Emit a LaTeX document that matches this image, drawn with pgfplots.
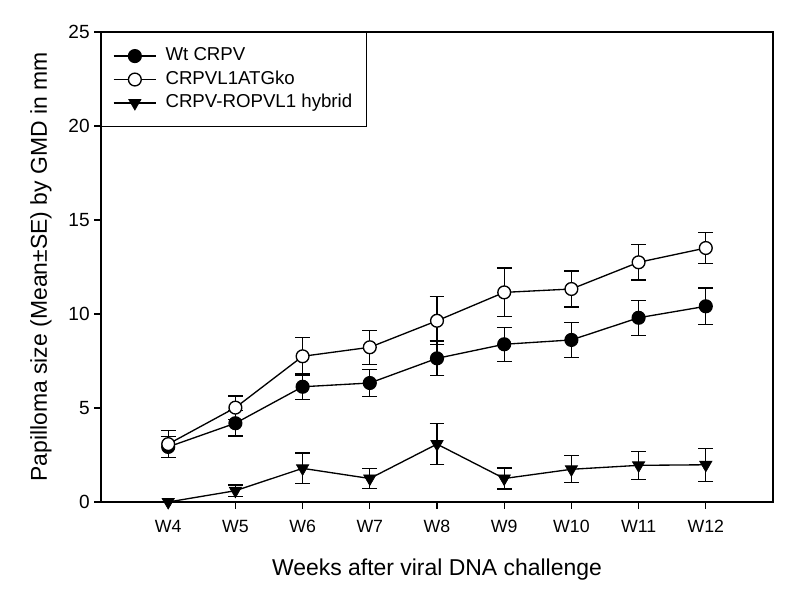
\documentclass[border=0pt]{standalone}
\usepackage{fontspec}
\setmainfont{Liberation Sans}
\usepackage{pgfplots}
\usepackage{pgfplotstable}
\pgfplotsset{compat=1.18}

\pgfplotstableread{
x ywt ewt yko eko yhy ehy
4 2.93 0.55 3.08 0.72 0.00 0.00
5 4.19 0.68 5.02 0.62 0.60 0.30
6 6.13 0.68 7.75 1.00 1.79 0.82
7 6.33 0.72 8.23 0.90 1.25 0.54
8 7.64 0.92 9.64 1.28 3.08 1.10
9 8.39 0.90 11.15 1.30 1.25 0.55
10 8.62 0.92 11.33 0.95 1.74 0.72
11 9.80 0.93 12.75 0.95 1.95 0.75
12 10.41 0.97 13.51 0.81 1.98 0.88
}\datatable

\begin{document}
\begin{tikzpicture}
\begin{axis}[
  scale only axis,
  width=504pt, height=352.5pt,
  xmin=3, xmax=13, ymin=0, ymax=25,
  xtick={4,5,6,7,8,9,10,11,12},
  xticklabels={W4,W5,W6,W7,W8,W9,W10,W11,W12},
  ytick={0,5,10,15,20,25},
  xtick pos=left, ytick pos=left,
  tick align=outside,
  major tick length=5pt,
  every tick/.style={black, line width=0.9pt},
  axis line style={line width=0.9pt},
  /pgf/number format/assume math mode=true,
  xticklabel style={font=\fontsize{13.3}{15}\selectfont, yshift=-5pt},
  yticklabel style={font=\fontsize{14.3}{16}\selectfont},
  xlabel={Weeks after viral DNA challenge},
  ylabel={Papilloma size (Mean±SE) by GMD in mm},
  label style={font=\fontsize{17.2}{20}\selectfont},
  xlabel style={at={(axis description cs:0.5,-0.1574)}, anchor=base},
  ylabel style={at={(axis description cs:-0.0804,0.5)}, anchor=base},
  clip=false,
  legend cell align=left,
  legend style={at={(0,1)}, anchor=north west, draw=black, line width=0.8pt,
    inner xsep=8.5pt, inner ysep=8.85pt, column sep=4.5pt, row sep=0pt,
    nodes={inner xsep=2pt, inner ysep=2.3pt, text height=10pt, text depth=3pt, font=\fontsize{14}{16}\selectfont}},
  legend image code/.code={\draw[mark repeat=2, mark phase=2] plot coordinates {(0pt,0pt) (16pt,0pt) (32pt,0pt)};},
  error bars/error bar style={line width=1pt, black},
  error bars/error mark options={rotate=90, mark size=5.5pt, line width=1pt, black},
]
\addplot[black, line width=1pt, mark=*, mark size=4.8pt, mark options={fill=black, draw=black, line width=1pt},
  error bars/.cd, y dir=both, y explicit]
  table[x=x, y=ywt, y error=ewt] {\datatable};
\addlegendentry{Wt CRPV}
\addplot[black, line width=1pt, mark=*, mark size=4.8pt, mark options={fill=white, draw=black, line width=1pt},
  error bars/.cd, y dir=both, y explicit]
  table[x=x, y=yko, y error=eko] {\datatable};
\addlegendentry{CRPVL1ATGko}
\addplot[black, line width=1pt, mark=triangle*, mark size=5.3pt, mark options={rotate=180, fill=black, draw=black, line width=0.5pt},
  error bars/.cd, y dir=both, y explicit]
  table[x=x, y=yhy, y error=ehy] {\datatable};
\addlegendentry{CRPV-ROPVL1 hybrid}
\end{axis}
\pgfresetboundingbox
\path[use as bounding box] ([shift={(-75.75pt,-73.5pt)}]current axis.south west) rectangle ([shift={(20.25pt,24pt)}]current axis.north east);
\end{tikzpicture}
\end{document}
